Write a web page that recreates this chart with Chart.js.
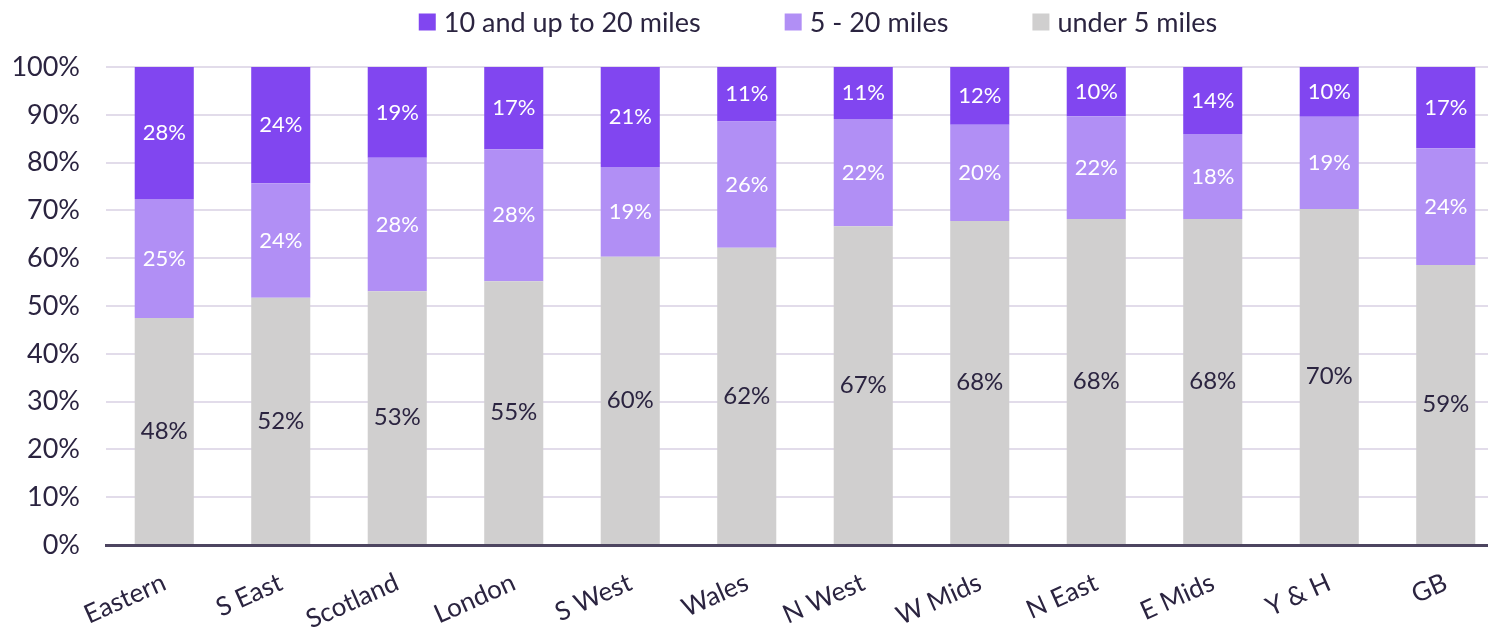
<!DOCTYPE html>
<html>
<head>
<meta charset="utf-8">
<script src="https://cdn.jsdelivr.net/npm/chart.js@4"></script>
<style>
  html, body { margin: 0; padding: 0; background: #fff; overflow: hidden; }
  #wrap { width: 1488px; height: 633px; overflow: hidden; }
</style>
</head>
<body>
<div id="wrap"><canvas id="grafico" width="1504" height="633"></canvas></div>
<script>
const regiones = ['Eastern', 'S East', 'Scotland', 'London', 'S West', 'Wales', 'N West', 'W Mids', 'N East', 'E Mids', 'Y & H', 'GB'];
const under5 = [47.5, 51.7, 53.1, 55.2, 60.3, 62.2, 66.7, 67.8, 68.2, 68.2, 70.3, 58.6];
const de5a20 = [24.9, 24.0, 27.9, 27.6, 18.8, 26.4, 22.4, 20.1, 21.5, 17.8, 19.3, 24.4];
const de10a20 = [27.6, 24.3, 19.0, 17.2, 20.9, 11.4, 10.9, 12.1, 10.3, 14.0, 10.4, 17.0];
const yTicks = [0, 10, 20, 30, 40, 50, 60, 70, 80, 90, 100];

const fuente = 'Lato, "Open Sans", sans-serif';
const texto = '#2b2440';

// etiquetas dentro de cada segmento
const etiquetas = {
    id: 'etiquetas',
    afterDatasetsDraw(chart) {
        const ctx = chart.ctx;
        ctx.save();
        ctx.textAlign = 'center';
        ctx.textBaseline = 'middle';
        chart.data.datasets.forEach((ds, i) => {
            const meta = chart.getDatasetMeta(i);
            ctx.font = ds.labelSize + 'px ' + fuente;
            ctx.fillStyle = ds.labelColor;
            meta.data.forEach((bar, j) => {
                const y = (bar.y + bar.base) / 2;
                ctx.fillText(Math.round(ds.data[j]) + '%', bar.x, y);
            });
        });
        ctx.restore();
    }
};

// leyenda propia (separacion horizontal amplia como en Excel)
const leyenda = {
    id: 'leyenda',
    afterDraw(chart) {
        const ctx = chart.ctx;
        const items = chart.data.datasets.slice().reverse();
        const caja = 17, hueco = 8, sep = 84;
        ctx.save();
        ctx.font = '27px ' + fuente;
        ctx.textBaseline = 'middle';
        const anchos = items.map(ds => caja + hueco + ctx.measureText(ds.label).width);
        const total = anchos.reduce((a, b) => a + b, 0) + sep * (items.length - 1);
        let x = 818 - total / 2;
        const y = 22;
        items.forEach((ds, i) => {
            ctx.fillStyle = ds.backgroundColor;
            ctx.fillRect(x, y - caja / 2, caja, caja);
            ctx.fillStyle = texto;
            ctx.fillText(ds.label, x + caja + hueco, y + 1);
            x += anchos[i] + sep;
        });
        ctx.restore();
    }
};

const ctx = document.getElementById('grafico').getContext('2d');
new Chart(ctx, {
    type: 'bar',
    data: {
        labels: regiones,
        datasets: [
            { label: 'under 5 miles', data: under5, backgroundColor: '#d0cfcf', labelColor: texto, labelSize: 24 },
            { label: '5 - 20 miles', data: de5a20, backgroundColor: '#b18ff5', labelColor: '#ffffff', labelSize: 22 },
            { label: '10 and up to 20 miles', data: de10a20, backgroundColor: '#8146f0', labelColor: '#ffffff', labelSize: 22 }
        ]
    },
    options: {
        responsive: false,
        animation: false,
        devicePixelRatio: 1,
        layout: { padding: { left: 14, right: 0, top: 67, bottom: 0 } },
        datasets: { bar: { categoryPercentage: 1, barPercentage: 0.507, borderWidth: 0 } },
        plugins: {
            tooltip: { enabled: false },
            legend: { display: false }
        },
        scales: {
            x: {
                stacked: true,
                grid: { display: false },
                border: { color: '#4d4560', width: 3 },
                afterFit: s => { s.paddingLeft = 0; s.paddingRight = 0; s.height = 88; },
                ticks: {
                    color: texto,
                    font: { family: fuente, size: 26 },
                    maxRotation: 24,
                    minRotation: 24,
                    padding: 14
                }
            },
            y: {
                stacked: true,
                min: 0,
                max: 100,
                afterBuildTicks: axis => { axis.ticks = yTicks.map(v => ({ value: v })); },
                afterFit: s => { s.width = 92; },
                grid: { color: '#e2dcea', lineWidth: 2, drawTicks: false },
                border: { display: false },
                ticks: {
                    color: texto,
                    padding: 26,
                    font: { family: fuente, size: 27 },
                    callback: v => v + '%'
                }
            }
        }
    },
    plugins: [etiquetas, leyenda]
});
</script>
</body>
</html>
